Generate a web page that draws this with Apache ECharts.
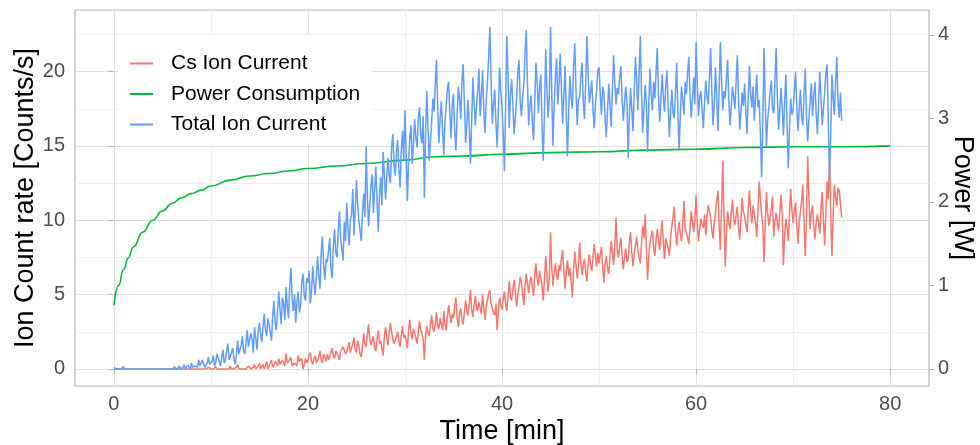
<!DOCTYPE html>
<html><head><meta charset="utf-8">
<script src="https://cdn.jsdelivr.net/npm/echarts@6/dist/echarts.min.js"></script>
<style>html,body{margin:0;padding:0;background:#fff}#c{width:980px;height:445px}</style>
</head><body><div id="c"></div>
<script>
// sampling step of the ion-current series [min]
const STEP = 0.125;

// Total ion current [Counts/s], one row (8 samples) per minute, t = 0 .. 75
const totalIon = [
0.1,0,0,0,0,0,0,0,
0.15,0,0,0,0.1,0,0,0,
0,0,0,0,0,0,0,0,
0,0,0,0,0,0,0,0,
0,0,0.1,0,0,0,0,0,
0,0,0,0,0,0,0.1,0,
0,0,0.15,0,0,0.05,0.2,0,
0,0.1,0.3,0,0.1,0.25,0.2,0,
0.4,0.1,0.05,0.2,0.3,0.1,0.6,0.2,
0.2,0.6,0.5,0.1,0.1,0.4,0.8,0.3,
0.3,0.5,0.9,0.2,0.4,1.0,1.1,0.5,
0.2,0.8,1.3,0.4,0.6,1.2,1.7,0.6,
0.5,1.1,1.4,0.7,0.3,0.9,1.9,1.0,
0.9,1.6,2.2,1.2,1.0,1.8,2.6,1.5,
1.4,2.4,2.0,1.1,2.8,2.1,1.3,2.5,
3.1,2.3,1.8,2.9,3.7,2.6,2.2,3.4,
3.3,2.5,1.9,3.6,4.6,3.0,2.6,3.9,
5.2,4.0,3.0,4.8,4.4,3.3,5.5,4.2,
3.4,5.6,6.8,4.7,3.9,5.0,3.1,4.5,
5.2,3.8,4.3,5.9,6.4,4.9,4.6,6.1,
5.8,6.6,4.4,5.3,6.9,5.7,5.0,6.3,
7.6,6.2,5.4,7.9,8.9,7.0,6.0,7.4,
7.2,8.0,8.8,6.7,6.1,8.3,9.4,7.8,
7.5,9.3,10.6,8.8,8.1,7.3,9.9,8.6,
11.2,9.6,8.3,10.0,10.4,12.1,9.0,10.7,
12.7,11.1,10.0,9.3,8.6,10.6,11.8,10.2,
15.0,11.6,9.6,11.0,12.4,13.1,10.5,12.0,
13.6,11.2,9.2,11.8,12.9,11.0,14.6,13.1,
11.4,12.8,14.2,13.0,12.5,14.9,15.8,13.7,
13.0,14.6,15.4,13.4,12.2,14.7,16.0,14.1,
17.4,14.5,11.3,13.9,15.6,16.4,13.8,15.1,
16.8,15.5,14.9,16.9,17.6,15.7,15.2,17.0,
11.5,15.9,18.7,16.3,14.0,15.3,16.6,18.2,
17.3,19.1,20.8,17.6,15.2,16.9,18.0,16.1,
14.4,16.6,17.7,18.9,19.3,17.2,15.5,17.8,
18.5,16.0,14.7,17.1,19.0,18.2,16.8,19.4,
20.5,17.9,15.2,16.5,18.1,16.3,13.8,16.7,
19.6,18.0,16.4,17.7,18.8,20.2,17.0,18.4,
20.1,17.3,15.9,18.1,19.3,21.0,23.0,19.5,
16.5,17.8,18.8,16.6,14.9,17.4,20.3,18.7,
17.6,15.8,13.3,17.9,22.4,19.6,16.2,18.5,
19.5,17.7,15.8,16.9,18.2,19.9,20.8,18.0,
17.0,18.3,19.1,21.3,22.8,19.2,16.4,17.8,
18.4,16.6,15.4,18.0,20.6,19.3,17.2,19.0,
19.8,16.4,14.0,17.2,21.5,18.9,16.9,18.3,
23.0,18.6,15.0,17.7,19.6,20.9,17.8,19.2,
21.2,18.9,16.5,18.4,20.4,17.1,14.3,17.5,
19.7,18.2,17.5,20.3,21.9,18.8,16.4,18.1,
18.3,19.7,20.6,18.0,16.8,19.2,22.4,19.9,
17.9,18.6,19.4,17.5,16.2,17.8,18.8,20.1,
20.3,18.5,17.1,19.0,18.6,16.9,15.6,17.4,
19.2,17.8,16.3,18.7,21.1,19.3,17.8,18.9,
18.5,19.6,20.4,18.2,16.7,17.9,19.0,18.1,
14.2,17.0,18.9,17.4,16.0,18.7,21.0,19.4,
17.4,19.8,22.4,18.6,15.9,17.5,19.1,17.9,
14.6,17.8,20.2,18.5,17.4,19.3,18.2,20.0,
21.6,18.4,16.6,18.1,19.8,18.3,17.3,19.1,
20.1,17.7,15.6,17.4,18.8,17.2,16.9,18.6,
20.6,17.3,14.8,17.0,19.0,18.1,17.1,19.3,
18.5,19.9,21.0,18.4,16.9,18.2,19.6,17.8,
22.0,19.2,17.0,18.3,18.7,17.4,16.2,18.0,
19.4,18.3,17.8,19.6,21.6,18.6,16.4,17.9,
20.3,18.1,16.0,18.8,22.0,19.5,17.4,18.7,
18.2,19.6,20.8,18.0,16.4,17.6,19.0,18.3,
17.5,19.4,21.1,18.2,16.1,17.3,18.6,17.7,
19.2,17.4,15.8,18.3,20.4,18.5,17.6,19.0,
16.7,18.3,19.8,17.6,18.1,15.9,12.9,16.6,
21.6,18.0,15.0,16.8,17.6,18.7,19.4,17.5,
17.2,19.4,21.6,18.3,16.1,17.4,18.9,17.6,
15.7,17.9,19.8,16.5,13.5,16.2,18.2,17.1,
17.4,18.8,20.0,17.7,16.0,17.5,18.8,16.9,
16.4,18.6,20.2,17.0,15.3,16.8,18.0,19.2,
17.0,18.4,19.3,17.1,15.8,17.9,20.0,18.2,
16.4,17.5,18.6,19.9,20.5,16.6,12.9,15.8,
19.8,18.2,17.1,19.3,21.0,18.0,16.9,18.6,
16.7
];

// Cs ion current [Counts/s], one row (8 samples) per minute, t = 0 .. 75
const csIon = [
0,0,0,0,0,0,0,0,
0,0,0,0,0,0,0,0,
0,0,0,0,0,0,0,0,
0,0,0,0,0,0,0,0,
0,0,0,0,0,0,0,0,
0,0,0,0,0,0,0,0,
0,0,0,0,0,0,0,0,
0,0,0,0,0,0,0,0,
0,0,0,0,0,0,0,0,
0,0,0,0,0,0,0.1,0,
0,0,0,0,0.15,0,0,0,
0,0,0.1,0,0,0,0,0,
0.2,0,0,0,0,0.1,0.3,0,
0,0,0.1,0,0,0,0,0.2,
0.2,0,0,0.1,0.3,0,0,0.2,
0.4,0,0.1,0.3,0,0.2,0.5,0,
0.2,0.4,0.6,0.1,0.1,0.5,0.4,0.2,
0.7,0.3,0.2,0.6,0.5,0.2,1.05,0.4,
0.3,0.6,0.8,0.2,0.1,0.4,0.5,0.2,
0.9,0.5,0.4,0.7,0,0.3,0.7,0.4,
0.6,0.9,1.1,0.5,0.3,0.7,0.9,0.4,
0.5,0.8,1.2,0.6,0.4,1.0,0.8,0.5,
1.0,0.6,0.5,1.1,1.4,0.9,0.7,1.2,
1.3,0.9,0.6,1.2,1.1,1.5,1.6,1.0,
0.9,1.4,1.8,1.1,1.2,1.7,2.1,1.3,
1.1,1.9,1.6,1.0,0.8,1.5,2.4,1.7,
1.5,2.3,3.0,2.0,1.6,1.9,2.2,1.4,
1.2,2.0,2.6,1.7,1.9,1.4,0.9,2.2,
2.8,2.1,1.6,2.4,3.1,2.5,2.0,1.7,
1.8,2.2,2.5,1.9,1.5,2.3,2.9,2.1,
2.3,1.9,1.4,2.6,3.3,2.4,2.0,2.7,
2.8,2.1,1.7,2.5,3.2,2.6,2.4,2.0,
0.6,2.2,2.9,2.4,2.2,3.0,3.6,2.7,
2.5,3.1,3.8,2.9,2.7,3.4,3.3,2.6,
3.9,3.0,2.6,3.5,4.3,3.6,3.1,3.7,
3.4,4.2,4.8,3.5,2.8,3.7,4.1,3.3,
3.0,3.8,4.6,3.9,3.6,4.4,5.3,4.0,
3.5,4.3,4.9,4.1,3.9,4.5,4.4,3.7,
5.0,4.1,3.3,4.2,4.6,5.1,5.3,4.4,
4.1,3.8,3.6,4.4,2.6,3.9,4.8,4.3,
4.0,4.7,5.2,4.4,3.9,5.0,5.9,4.8,
4.6,5.4,6.0,5.1,4.2,4.9,5.5,6.2,
5.8,5.0,4.3,5.6,6.4,5.7,5.1,5.9,
6.2,5.5,4.9,6.3,7.1,6.0,5.6,6.6,
6.5,5.6,4.6,6.0,7.6,6.4,5.2,6.1,
9.2,6.8,5.6,6.5,7.1,6.3,6.0,7.0,
6.6,7.4,8.0,6.5,5.4,6.7,7.3,6.2,
6.8,5.9,4.8,6.6,7.9,7.0,6.1,6.9,
8.5,7.2,6.3,7.0,7.4,6.5,5.9,7.1,
7.7,7.0,6.6,7.5,8.4,7.6,6.9,7.8,
7.1,7.7,8.2,6.9,5.8,7.0,7.6,6.8,
6.4,7.5,8.6,7.8,7.0,8.4,10.2,8.0,
7.5,8.3,8.8,7.6,6.7,7.5,8.1,7.2,
7.4,8.5,9.2,7.8,6.9,7.7,8.3,8.9,
8.0,7.5,7.1,8.4,9.6,8.8,10.4,8.2,
6.0,7.6,8.5,9.0,9.3,8.1,7.6,8.7,
9.4,8.6,8.0,9.1,10.0,8.5,7.4,8.8,
8.7,8.1,7.6,8.9,9.6,10.2,10.9,9.3,
8.3,9.2,9.9,9.0,8.6,9.7,11.3,9.5,
9.6,8.8,8.4,9.5,10.6,9.9,9.2,10.1,
11.7,9.8,8.6,9.4,10.1,9.7,9.5,10.4,
9.0,10.3,11.0,10.6,10.2,9.3,8.8,9.9,
10.5,11.4,12.0,9.6,8.0,10.9,14.0,10.2,
6.9,9.1,10.6,9.8,9.4,10.5,11.4,10.0,
9.7,10.4,10.9,9.5,8.7,10.2,11.5,10.6,
10.3,9.7,9.2,10.8,12.0,10.6,9.8,11.0,
11.1,9.8,8.9,10.7,12.6,11.5,10.4,9.6,
7.2,9.8,11.9,10.5,9.6,10.3,10.8,11.6,
8.9,9.9,10.5,9.8,9.3,10.6,11.7,10.4,
7.0,9.0,10.1,9.5,8.6,10.4,12.1,10.7,
9.8,10.6,11.2,9.7,8.4,9.9,10.6,11.3,
12.4,9.9,7.6,10.2,14.3,11.6,9.4,10.5,
11.0,9.6,8.7,9.9,10.4,9.8,9.1,10.8,
11.9,10.0,8.3,10.6,12.6,11.4,14.0,10.3,
7.6,10.4,12.4,11.5,11.0,12.2,12.0,11.1,
10.2
];

// Power consumption [W]
const powerTime = [0,0.5,1,1.5,2,3,4,5,6,7,8,9,10,12,14,16,18,20,23,26,30,33,36,40,45,50,55,60,65,70,75,80];
const powerW    = [0.76,1.00,1.19,1.33,1.46,1.64,1.78,1.89,1.98,2.05,2.10,2.14,2.19,2.26,2.31,2.34,2.37,2.40,2.43,2.46,2.50,2.54,2.55,2.57,2.59,2.60,2.62,2.63,2.65,2.66,2.66,2.67];

// axes
const xTicks = [0,20,40,60,80];
const xMinor = [10,30,50,70];
const yTicks = [0,5,10,15,20];
const yMinor = [2.5,7.5,12.5,17.5,22.5];
const y2Ticks = [0,1,2,3,4];
const X_RANGE = [-4, 84];
const Y_RANGE = [-1.15, 24.15];
const POWER_SCALE = 5.62; // counts per watt on the secondary axis

const names = ['Cs Ion Current','Power Consumption','Total Ion Current'];
const colors = ['#F8766D','#00BA38','#619CFF'];

const toPairs = arr => arr.map((v,i)=>[i*STEP, v]);
const powerPairs = powerTime.map((t,i)=>[t, powerW[i]]);

const FONT = 'Liberation Sans, Arial, sans-serif';
const chart = echarts.init(document.getElementById('c'), null, {renderer:'canvas'});

const minorLines = {
  silent: true, symbol: 'none', animation: false, z: 1,
  label: {show:false},
  lineStyle: {color:'#EFEFEF', width:1, type:'solid'},
  emphasis: {disabled:true},
  data: yMinor.map(v=>({yAxis:v})).concat(xMinor.map(v=>({xAxis:v})))
};

chart.setOption({
  animation: false,
  backgroundColor: '#ffffff',
  textStyle: {fontFamily: FONT},
  grid: {left:75, top:10, right:51, bottom:59, containLabel:false, outerBoundsMode:'none',
         show:true, borderColor:'#B3B3B3', borderWidth:1.2, backgroundColor:'transparent'},
  legend: {
    data: names.map(n=>({name:n, icon:'rect'})),
    orient: 'vertical',
    left: 118, top: 35,
    backgroundColor: '#ffffff',
    padding: [18, 12, 9, 12],
    itemWidth: 23, itemHeight: 2, itemGap: 9.5,
    textStyle: {fontSize: 21, color:'#000000', fontFamily: FONT, padding:[0,0,0,13]},
    selectedMode: false
  },
  xAxis: {
    type:'value', min:X_RANGE[0], max:X_RANGE[1],
    name:'Time [min]', nameLocation:'middle', nameGap:32, nameMoveOverlap:false,
    nameTextStyle:{fontSize:27, color:'#000000', fontFamily:FONT},
    axisLine:{show:false},
    axisTick:{show:true, customValues:xTicks, length:5, lineStyle:{color:'#B3B3B3', width:1}},
    axisLabel:{customValues:xTicks, fontSize:20, color:'#4D4D4D', margin:8, fontFamily:FONT},
    splitLine:{show:true, lineStyle:{color:'#DEDEDE', width:1}}
  },
  yAxis: [{
    type:'value', min:Y_RANGE[0], max:Y_RANGE[1],
    name:'Ion Count rate [Counts/s]', nameLocation:'middle', nameGap:36, nameMoveOverlap:false,
    nameTextStyle:{fontSize:27, color:'#000000', fontFamily:FONT},
    axisLine:{show:false},
    axisTick:{show:true, customValues:yTicks, length:5, lineStyle:{color:'#B3B3B3', width:1}},
    axisLabel:{customValues:yTicks, fontSize:20, color:'#4D4D4D', margin:10, fontFamily:FONT},
    splitLine:{show:true, lineStyle:{color:'#DEDEDE', width:1}}
  },{
    type:'value', position:'right',
    min:Y_RANGE[0]/POWER_SCALE, max:Y_RANGE[1]/POWER_SCALE,
    name:'Power [W]', nameLocation:'middle', nameGap:20, nameRotate:-90, nameMoveOverlap:false,
    nameTextStyle:{fontSize:27, color:'#000000', fontFamily:FONT},
    axisLine:{show:false},
    axisTick:{show:true, customValues:y2Ticks, length:5, lineStyle:{color:'#B3B3B3', width:1}},
    axisLabel:{customValues:y2Ticks, fontSize:20, color:'#4D4D4D', margin:9, fontFamily:FONT},
    splitLine:{show:false}
  }],
  series: [
    {type:'line', name:'__grid', data:[], z:1, yAxisIndex:0, markLine: minorLines, silent:true},
    {type:'line', name:names[0], data:toPairs(csIon), yAxisIndex:0, symbol:'none', showSymbol:false,
     lineStyle:{color:colors[0], width:1.5}, itemStyle:{color:colors[0]}, z:2},
    {type:'line', name:names[1], data:powerPairs, yAxisIndex:1, symbol:'none', showSymbol:false,
     smooth:true, smoothMonotone:'x',
     lineStyle:{color:colors[1], width:1.6}, itemStyle:{color:colors[1]}, z:3},
    {type:'line', name:names[2], data:toPairs(totalIon), yAxisIndex:0, symbol:'none', showSymbol:false,
     lineStyle:{color:colors[2], width:1.5}, itemStyle:{color:colors[2]}, z:4}
  ]
});
</script>
</body></html>
